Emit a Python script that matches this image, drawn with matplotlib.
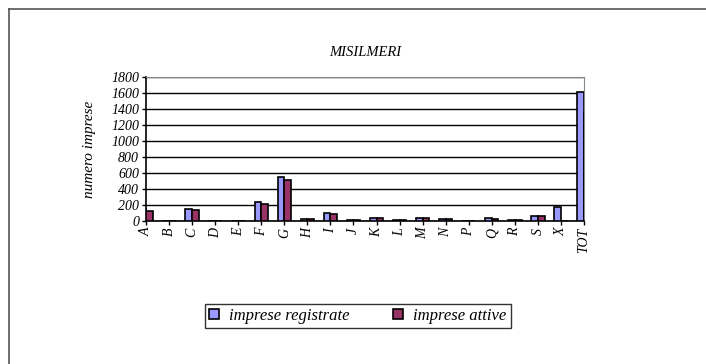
import numpy as np
import matplotlib
matplotlib.use("Agg")
import matplotlib.pyplot as plt
from matplotlib.lines import Line2D

plt.rcParams['font.family'] = ['Liberation Serif', 'DejaVu Serif']

sectors = ["A", "B", "C", "D", "E", "F", "G", "H", "I", "J", "K", "L",
           "M", "N", "P", "Q", "R", "S", "X", "TOT"]
registrate = [145, 5, 150, 3, 6, 233, 550, 30, 96, 12, 42, 10,
              35, 30, 5, 32, 15, 62, 171, 1612]
attive = [130, 4, 133, 2, 5, 212, 517, 28, 87, 10, 40, 9,
          33, 28, 4, 30, 13, 58, 3, 1346]
yticks = list(range(0, 1801, 200))

fig = plt.figure(figsize=(7.06, 3.64), dpi=100)
ax = fig.add_axes([146 / 706, 1 - 221 / 364, 438 / 706, 144 / 364])

x = np.arange(len(sectors))
w = 0.29
ax.bar(x - w / 2, registrate, w, color="#9999FF", edgecolor="black",
       linewidth=1.2, label="imprese registrate", zorder=3)
ax.bar(x + w / 2, attive, w, color="#993366", edgecolor="black",
       linewidth=1.2, label="imprese attive", zorder=3)

ax.set_xlim(0, len(sectors) - 1)
ax.set_ylim(0, 1800)
ax.set_yticks(yticks)
ax.set_xticks(x)
ax.set_xticklabels(sectors, rotation=90, style="italic", fontsize=10)
for t in ax.get_yticklabels():
    t.set_style("italic")
    t.set_fontsize(10)
ax.tick_params(axis="both", direction="out", length=3, width=1, pad=2)
ax.yaxis.grid(True, color="black", linewidth=1, zorder=0)
ax.spines["left"].set_linewidth(1.2)
ax.spines["bottom"].set_linewidth(1.2)
ax.spines["top"].set_color("#888888")
ax.spines["right"].set_color("#888888")

ax.set_ylabel("numero imprese", style="italic", fontsize=11, labelpad=11)
fig.text(365 / 706, 1 - 52 / 364, "MISILMERI", style="italic", fontsize=10.5,
         ha="center", va="center")

leg = fig.legend(loc="center", bbox_to_anchor=(358 / 706, 1 - 316 / 364),
                 ncol=2, frameon=True, fancybox=False, edgecolor="black",
                 prop={"style": "italic", "size": 12}, handlelength=0.6,
                 handleheight=0.6, columnspacing=2.6, borderpad=0.25,
                 borderaxespad=0, handletextpad=0.6)
leg.get_frame().set_linewidth(1)

# chart area frame (left and top edges visible)
fig.add_artist(Line2D([9 / 706, 9 / 706], [0, 1 - 9 / 364], color="#555555", lw=1.2))
fig.add_artist(Line2D([9 / 706, 1], [1 - 9 / 364, 1 - 9 / 364], color="#555555", lw=1.2))

fig.savefig("out.png", dpi=100)
